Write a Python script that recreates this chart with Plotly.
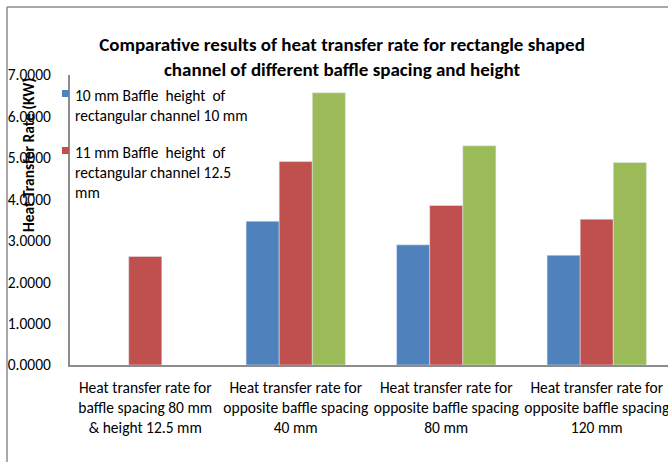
import plotly.graph_objects as go

categories = [
    "Heat transfer rate for<br>baffle spacing 80 mm<br>& height 12.5 mm",
    "Heat transfer rate for<br>opposite baffle spacing<br>40 mm",
    "Heat transfer rate for<br>opposite baffle spacing<br>80 mm",
    "Heat transfer rate for<br>opposite baffle spacing<br>120 mm",
]
series_blue_name = "10 mm Baffle  height  of<br>rectangular channel 10 mm"
series_red_name = "11 mm Baffle  height  of<br>rectangular channel 12.5<br>mm"
series_green_name = "12.5 mm Baffle height"
blue_vals = [None, 3.47, 2.90, 2.65]
red_vals = [2.62, 4.91, 3.85, 3.52]
green_vals = [None, 6.57, 5.29, 4.89]
y_ticks = [0, 1, 2, 3, 4, 5, 6, 7]

BLUE, RED, GREEN = "#4F81BD", "#C0504D", "#9BBB59"
FONT = "Carlito, Lato, 'Open Sans', sans-serif"
W, H = 668, 462
L, T, B = 70, 75, 97
PW = W - L
PH = H - T - B

def px_x(p):
    return (p - L) / PW

def px_y(p):
    return (H - B - p) / PH

x = list(range(len(categories)))
fig = go.Figure()
fig.add_trace(go.Bar(x=x, y=blue_vals, name=series_blue_name, marker_color=BLUE,
                     showlegend=False))
fig.add_trace(go.Bar(x=x, y=red_vals, name=series_red_name, marker_color=RED,
                     showlegend=False))
fig.add_trace(go.Bar(x=x, y=green_vals, name=series_green_name, marker_color=GREEN,
                     showlegend=False))

# manual legend (shown entries only, as in the reference)
legend_entries = [(series_blue_name, BLUE, 84), (series_red_name, RED, 141)]
annotations = [
    dict(text="<b>Heat Transfer Rate (KW)</b>", textangle=-90,
         xref="paper", yref="paper", x=px_x(28), y=px_y(155),
         xanchor="center", yanchor="middle", showarrow=False,
         font=dict(size=15.5, color="black")),
]
shapes = [
    dict(type="line", xref="paper", yref="paper",
         x0=px_x(7), x1=px_x(7), y0=px_y(7), y1=px_y(H),
         line=dict(color="#8c8c8c", width=1.5)),
    dict(type="line", xref="paper", yref="paper",
         x0=px_x(7), x1=px_x(W), y0=px_y(7), y1=px_y(7),
         line=dict(color="#8c8c8c", width=1.5)),
]
for name, col, top in legend_entries:
    annotations.append(dict(text=name, xref="paper", yref="paper",
                            x=px_x(73), y=px_y(top), xanchor="left", yanchor="top",
                            align="left", showarrow=False,
                            font=dict(size=15.5, color="black")))
    shapes.append(dict(type="rect", xref="paper", yref="paper",
                       x0=px_x(62), x1=px_x(69), y0=px_y(top + 6), y1=px_y(top + 13),
                       fillcolor=col, line=dict(width=0)))

fig.update_layout(
    width=W, height=H,
    margin=dict(l=L, r=0, t=T, b=B, autoexpand=False),
    paper_bgcolor="white", plot_bgcolor="white",
    font=dict(family=FONT, size=15.5, color="black"),
    barmode="group", bargap=0.34, bargroupgap=0,
    showlegend=False,
    title=dict(
        text="<b>Comparative results of heat transfer rate for rectangle shaped<br>channel of different baffle spacing and height</b>",
        x=342 / W, xanchor="center", y=1 - 51 / H, yanchor="middle",
        font=dict(family=FONT, size=19, color="black"),
    ),
    xaxis=dict(
        range=[-0.5, -0.5 + PW / 150.5],
        tickvals=x, ticktext=categories, tickangle=0,
        ticklabeloverflow="allow", ticklabelstandoff=7,
        showline=True, linecolor="#8c8c8c", linewidth=2,
        showgrid=False, zeroline=False, ticks="",
        tickfont=dict(size=15.5),
    ),
    yaxis=dict(
        range=[0, 7], tickvals=y_ticks, tickformat=".4f",
        showline=True, linecolor="#8c8c8c", linewidth=2,
        showgrid=False, zeroline=False, ticks="",
        ticklabelstandoff=14, tickfont=dict(size=15.5),
    ),
    annotations=annotations,
    shapes=shapes,
)

fig.write_html("out.html", config={"displayModeBar": False},
               post_script="document.body.style.margin='0';document.body.style.overflow='hidden';")
